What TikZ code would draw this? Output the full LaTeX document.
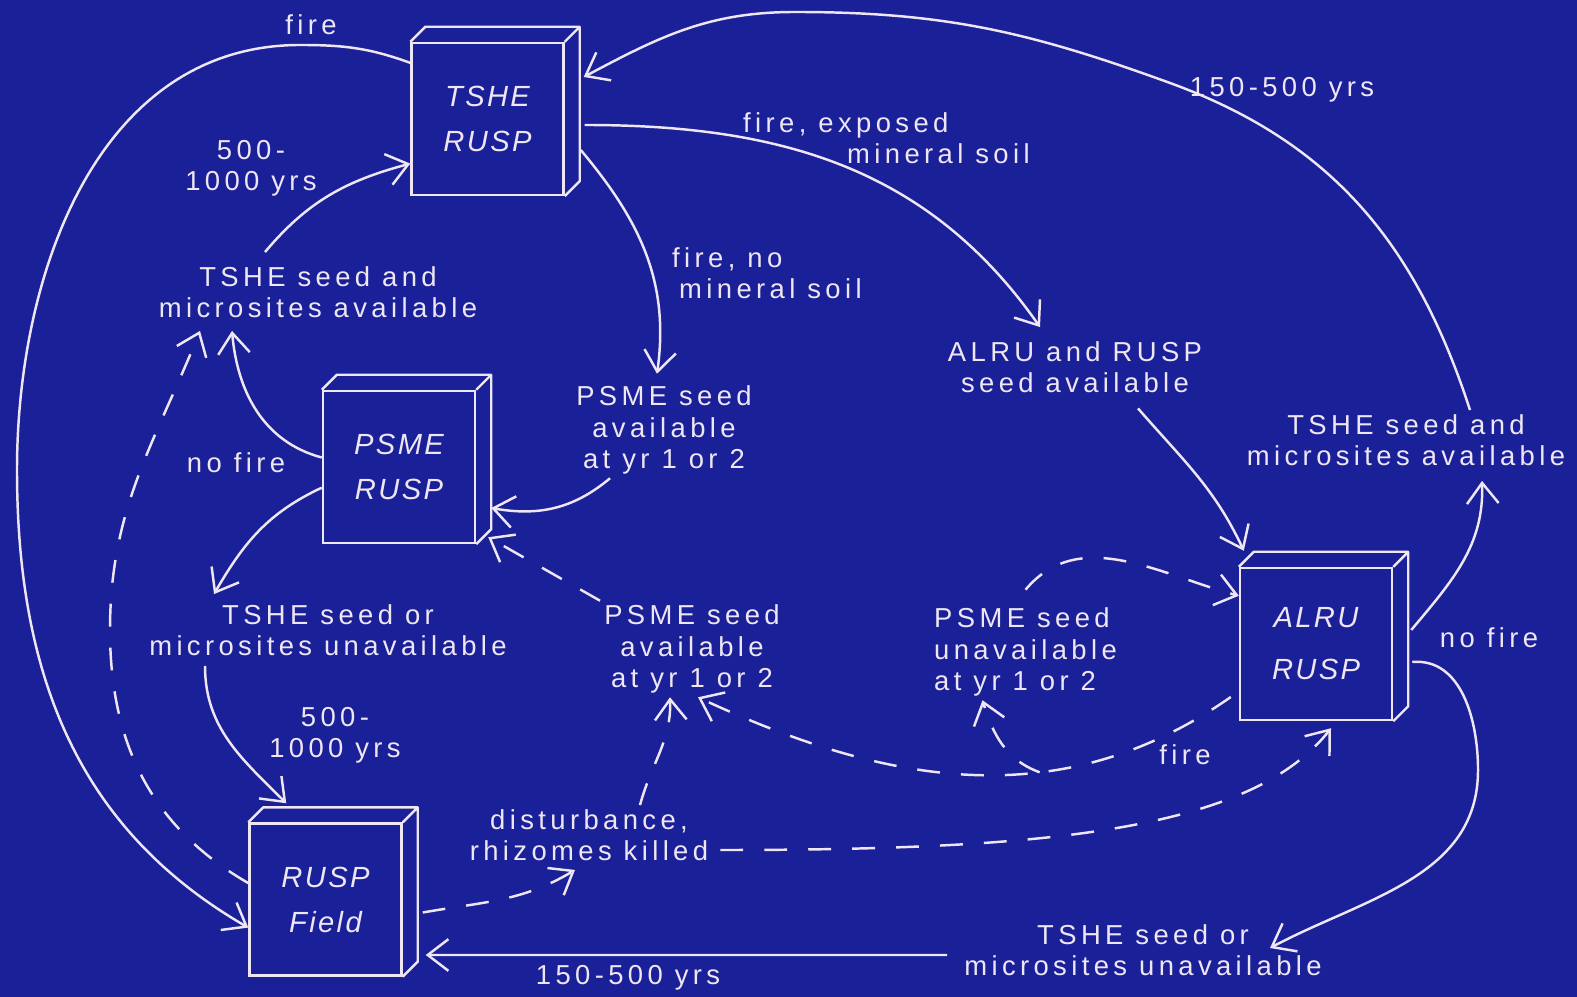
\documentclass[tikz,border=0pt]{standalone}
\usepackage{fontspec}
\usetikzlibrary{arrows.meta}
\definecolor{slideBlue}{RGB}{26,32,152}
\definecolor{chalk}{RGB}{238,230,242}
\newfontfamily\notefont[LetterSpace=16]{Liberation Sans}
\newfontfamily\standfont[LetterSpace=8]{Liberation Sans}

\begin{document}
\begin{tikzpicture}[
    >={Straight Barb[angle=75:0.26cm]},
    flow/.style={chalk, line width=0.7pt, ->},
    maybe/.style={flow, dash pattern=on 6.5pt off 6pt},
    stand/.style={draw=chalk, line width=0.7pt, minimum width=1.52cm, minimum height=1.52cm,
      inner sep=0pt, text=chalk, align=center, font=\standfont\itshape\fontsize{8.3}{12.8}\selectfont},
    note/.style={text=chalk, align=center, inner sep=1pt, font=\notefont\fontsize{7.8}{8.9}\selectfont}
  ]
  \fill[slideBlue] (0,0) rectangle (15.77,-9.97);
  \useasboundingbox (0,0) rectangle (15.77,-9.97);

  % stands
  \node[stand] (tshe) at (4.875,-1.19) {TSHE\\RUSP};
  \node[stand] (psme) at (3.99,-4.67) {PSME\\RUSP};
  \node[stand] (alru) at (13.16,-6.44) {ALRU\\[0.07cm]RUSP};
  \node[stand] (field) at (3.255,-8.995) {RUSP\\Field};
  \foreach \b in {tshe,psme,alru,field}
    \draw[chalk, line width=0.7pt, line join=round] (\b.north west) -- ++(0.15,0.15)
      -- ([shift={(0.15,0.15)}]\b.north east) -- ([shift={(0.15,0.15)}]\b.south east) -- (\b.south east)
      (\b.north east) -- ++(0.15,0.15);

  % conditions
  \node[note] (fireTop) at (3.11,-0.25) {fire};
  \node[note] (spanTop) at (2.51,-1.68) {500-\\1000 yrs};
  \node[note] (tsheOkL) at (3.18,-2.92) {TSHE seed and\\microsites available};
  \node[note, anchor=west, align=left] (fireSoil) at (7.39,-1.38) {fire, exposed\\\hspace*{1.04cm}mineral soil};
  \node[note, anchor=west, align=left] (fireNoSoil) at (6.68,-2.73) {fire, no\\\hspace*{0.07cm}mineral soil};
  \node[note] (psmeOkU) at (6.64,-4.30) {PSME seed\\available\\at yr 1 or 2};
  \node[note] (alruSeed) at (10.75,-3.67) {ALRU and RUSP\\seed available};
  \node[note] (spanRight) at (12.82,-0.90) {150-500 yrs};
  \node[note] (tsheOkR) at (14.06,-4.40) {TSHE seed and\\microsites available};
  \node[note] (noFireL) at (2.36,-4.63) {no fire};
  \node[note] (noFireR) at (14.89,-6.38) {no fire};
  \node[note] (tsheNoL) at (3.28,-6.30) {TSHE seed or\\microsites unavailable};
  \node[note] (psmeOkL) at (6.92,-6.49) {PSME seed\\available\\at yr 1 or 2};
  \node[note, anchor=west, align=left] (psmeNo) at (9.30,-6.52) {PSME seed\\unavailable\\at yr 1 or 2};
  \node[note] (spanLow) at (3.35,-7.35) {500-\\1000 yrs};
  \node[note] (fireLow) at (11.85,-7.55) {fire};
  \node[note] (disturb) at (5.89,-8.35) {disturbance,\\rhizomes killed};
  \node[note] (spanBottom) at (6.28,-9.78) {150-500 yrs};
  \node[note] (tsheNoR) at (11.43,-9.50) {TSHE seed or\\microsites unavailable};

  % solid transitions
  \draw[flow] (tshe.144) to[out=160,in=0] (3.0,-0.45) to[out=180,in=90] (0.17,-4.7) to[out=-90,in=150] (field.200);
  \draw[flow] ([shift={(-0.53,0.1)}]tsheOkL.north) to[out=50,in=195] (tshe.210);
  \draw[flow] (psme.173) to[out=165,in=-85] ([shift={(-0.86,-0.09)}]tsheOkL.south);
  \draw[flow] (psme.195) to[out=205,in=60] ([shift={(-1.14,0.06)}]tsheNoL.north);
  \draw[flow] ([shift={(-1.23,-0.06)}]tsheNoL.south) to[out=-90,in=135] ([shift={(0.38,0.19)}]field.north west);
  \draw[flow] ([shift={(0.2,-0.06)}]tshe.east) to[out=0,in=125] ([shift={(-0.35,0.1)}]alruSeed.north);
  \draw[flow] ([shift={(0.16,-0.31)}]tshe.east) to[out=-50,in=82] ([shift={(-0.07,0.08)}]psmeOkU.north);
  \draw[flow] ([xshift=-0.54cm]psmeOkU.south) to[out=-140,in=-10] ([shift={(0.15,-0.41)}]psme.east);
  \draw[flow] ([xshift=0.64cm]tsheOkR.north) to[out=108,in=-20] (11.70,-0.83) to[out=160,in=0] (7.95,-0.12)
    to[out=180,in=28] ([shift={(0.19,0.42)}]tshe.east);
  \draw[flow] ([shift={(0.18,0.14)}]alru.east) to[out=50,in=-88] ([shift={(0.76,-0.11)}]tsheOkR.south);
  \draw[flow] ([shift={(0.19,-0.18)}]alru.east) to[out=5,in=90] (14.78,-7.7) to[out=-90,in=28] ([shift={(1.27,0.02)}]tsheNoR.center);
  \draw[flow] ([shift={(-0.13,-0.05)}]tsheNoR.west) -- ([shift={(0.23,-0.555)}]field.east);
  \draw[flow] ([shift={(0.63,-0.115)}]alruSeed.south) to[out=-49,in=115] ([shift={(0.05,0.16)}]alru.north west);

  % dashed transitions
  \draw[maybe] (field.168) to[out=150,in=-90] (1.10,-6.3) to[out=90,in=-112] ([shift={(-1.18,-0.09)}]tsheOkL.south);
  \draw[maybe] ([shift={(0.2,-0.13)}]field.east) to[out=10,in=211] ([shift={(-0.14,-0.05)}]disturb.south);
  \draw[maybe] ([xshift=0.51cm]disturb.north) to[out=75,in=-88] ([xshift=-0.22cm]psmeOkL.south);
  \draw[maybe] ([shift={(0.08,-0.15)}]disturb.east) .. controls +(3.24,0) and +(-0.81,-1.03) .. ([shift={(0.15,-0.07)}]alru.south);
  \draw[maybe] (psmeOkL.north west) -- ([shift={(0.12,0.07)}]psme.south east);
  \draw[maybe] ([shift={(-0.08,-0.53)}]alru.west) to[out=215,in=-25] coordinate[pos=0.37] (split) ([xshift=0.06cm]psmeOkL.south);
  \draw[maybe] (split) to[out=160,in=-73] ([xshift=-0.43cm]psmeNo.south);
  \draw[maybe] ([yshift=0.14cm]psmeNo.north) to[out=50,in=165] (alru.148);
\end{tikzpicture}
\end{document}
